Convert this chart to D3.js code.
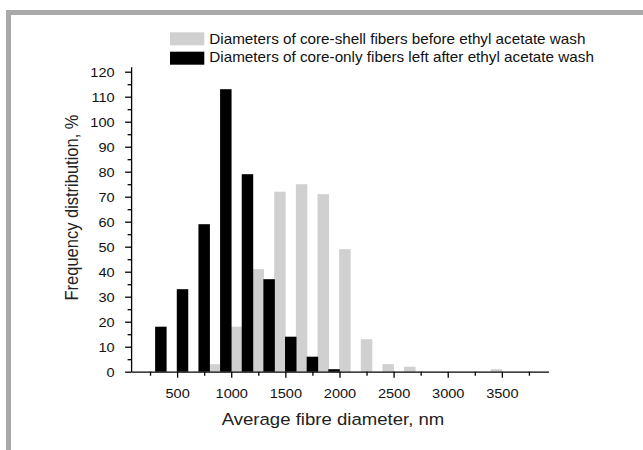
<!DOCTYPE html>
<html><head><meta charset="utf-8">
<script src="https://cdn.jsdelivr.net/npm/d3@7"></script>
<style>body{margin:0;background:#fff}svg{display:block;font-family:"Liberation Sans",Arial,sans-serif}</style>
</head><body><svg id="c" width="643" height="450"></svg>
<script>
const blackCenters=[350,550,750,950,1150,1350,1550,1750,1950];
const blackValues=[18,33,59,113,79,37,14,6,1];
const grayCenters=[850,1050,1250,1450,1650,1850,2050,2250,2450,2650,2850,3050,3250,3450];
const grayValues=[3,18,41,72,75,71,49,13,3,2,0,0,0,1];
const xTickValues=[500,1000,1500,2000,2500,3000,3500];
const xMinorTicks=[250,750,1250,1750,2250,2750,3250,3750];
const yTickValues=[0,10,20,30,40,50,60,70,80,90,100,110,120];
const yMinorTicks=[5,15,25,35,45,55,65,75,85,95,105,115];
const seriesNames=["Diameters of core-shell fibers before ethyl acetate wash","Diameters of core-only fibers left after ethyl acetate wash"];
const xTitle="Average fibre diameter, nm";
const yTitle="Frequency distribution, %";

const SX=1.12;
const svg=d3.select("#c");
const x=d3.scaleLinear().domain([75,3930]).range([131.1,548.4]);
const y=d3.scaleLinear().domain([0,122]).range([371.7,66.7]);
const bw=106;

// frame
svg.append("rect").attr("x",6).attr("y",10).attr("width",640).attr("height",5).attr("fill","#a9a9a9");
svg.append("rect").attr("x",6).attr("y",10).attr("width",5).attr("height",440).attr("fill","#a9a9a9");

const gray="#d0d0d0";
svg.append("g").selectAll("rect").data(grayCenters.map((c,i)=>({c,v:grayValues[i]}))).join("rect")
 .attr("x",d=>x(d.c-bw/2)).attr("width",d=>x(d.c+bw/2)-x(d.c-bw/2))
 .attr("y",d=>y(d.v)).attr("height",d=>y(0)-y(d.v)).attr("fill",gray);
svg.append("g").selectAll("rect").data(blackCenters.map((c,i)=>({c,v:blackValues[i]}))).join("rect")
 .attr("x",d=>x(d.c-bw/2)).attr("width",d=>x(d.c+bw/2)-x(d.c-bw/2))
 .attr("y",d=>y(d.v)).attr("height",d=>y(0)-y(d.v)).attr("fill","#000");

// axes
const xMin=svg.append("g").attr("transform",`translate(0,${y(0)})`)
 .call(d3.axisBottom(x).tickValues(xMinorTicks).tickSize(4).tickSizeOuter(0).tickFormat(""));
xMin.select(".domain").remove();
const xA=svg.append("g").attr("transform",`translate(0,${y(0)})`)
 .call(d3.axisBottom(x).tickValues(xTickValues).tickSize(6).tickSizeOuter(0).tickFormat(d3.format("d")));
xA.selectAll("text").attr("y",null).attr("dy",null).attr("transform",`translate(0,26.5) scale(${SX},1)`)
 .attr("font-size",13).attr("fill","#111").attr("font-family",'"Liberation Sans",Arial,sans-serif');
const yMin=svg.append("g").attr("transform",`translate(${x(75)},0)`)
 .call(d3.axisLeft(y).tickValues(yMinorTicks).tickSize(3.5).tickSizeOuter(0).tickFormat(""));
yMin.select(".domain").remove();
const yA=svg.append("g").attr("transform",`translate(${x(75)},0)`)
 .call(d3.axisLeft(y).tickValues(yTickValues).tickSize(6).tickSizeOuter(0));
yA.selectAll("text").attr("x",null).attr("dy","0.35em").attr("transform",`translate(-16.5,0) scale(${SX},1)`)
 .attr("font-size",13).attr("fill","#111").attr("font-family",'"Liberation Sans",Arial,sans-serif');
svg.selectAll(".domain,.tick line").attr("stroke","#000").attr("stroke-width",1.3);

// titles
svg.append("text").attr("transform",`translate(333,425) scale(${SX+0.02},1)`).attr("text-anchor","middle")
 .attr("font-size",16.3).attr("fill","#222").text(xTitle);
svg.append("text").attr("transform",`translate(78.3,207.5) scale(${SX},1) rotate(-90)`).attr("text-anchor","middle")
 .attr("font-size",16.5).attr("fill","#222").text(yTitle);

// legend
const leg=[{c:gray,y:32.3,b:44},{c:"#000",y:51.7,b:62.3}];
leg.forEach((l,i)=>{
 svg.append("rect").attr("x",170).attr("y",l.y).attr("width",34.3).attr("height",13).attr("fill",l.c);
 svg.append("text").attr("transform",`translate(209.3,${l.b}) scale(1.09,1)`).attr("font-size",14).attr("fill","#111").text(seriesNames[i]);
});
</script></body></html>
